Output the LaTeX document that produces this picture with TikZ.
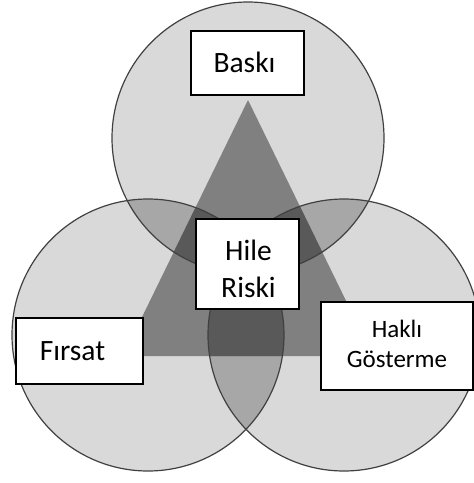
\documentclass[tikz,border=0pt]{standalone}
\usepackage{fontspec}
\setmainfont{Carlito}
\usetikzlibrary{calc}
\definecolor{gone}{gray}{0.851}
\definecolor{gtwo}{gray}{0.655}
\definecolor{gthree}{gray}{0.50}
\definecolor{gfour}{gray}{0.35}
\definecolor{edgec}{gray}{0.25}
\tikzset{
  box/.style={draw=black, line width=1.3pt, fill=white, inner sep=0pt},
  lbl/.style={inner sep=0pt, anchor=base, text=black},
  big/.style={font=\fontsize{29.5}{36}\selectfont},
  small/.style={font=\fontsize{25}{30}\selectfont},
  ring/.style={draw=edgec, line width=1.2pt}
}
\begin{document}
\begin{tikzpicture}[x=1pt,y=-1pt]
\useasboundingbox (0,0) rectangle (474,483);
\coordinate (ct) at (248,138);
\coordinate (cl) at (148,335);
\coordinate (cr) at (344,335);
\def\R{136pt}
% circles
\fill[gone] (ct) circle[radius=\R];
\fill[gone] (cl) circle[radius=\R];
\fill[gone] (cr) circle[radius=\R];
% pairwise overlaps
\begin{scope}\clip (ct) circle[radius=\R]; \fill[gtwo] (cl) circle[radius=\R]; \fill[gtwo] (cr) circle[radius=\R];\end{scope}
\begin{scope}\clip (cl) circle[radius=\R]; \fill[gtwo] (cr) circle[radius=\R];\end{scope}
% triangle
\coordinate (ta) at (248,100);
\coordinate (tb) at (123,356);
\coordinate (tc) at (373,356);
\fill[gthree] (ta) -- (tb) -- (tc) -- cycle;
\begin{scope}
  \clip (ta) -- (tb) -- (tc) -- cycle;
  \begin{scope}\clip (ct) circle[radius=\R]; \fill[gfour] (cl) circle[radius=\R]; \fill[gfour] (cr) circle[radius=\R];\end{scope}
  \begin{scope}\clip (cl) circle[radius=\R]; \fill[gfour] (cr) circle[radius=\R];\end{scope}
\end{scope}
% outlines
\draw[ring] (ct) circle[radius=\R];
\draw[ring] (cl) circle[radius=\R];
\draw[ring] (cr) circle[radius=\R];
% boxes
\node[box, minimum width=113pt, minimum height=64pt] (baski) at (247.5,63) {};
\node[box, minimum width=103pt, minimum height=90pt] (hile) at (247.5,264) {};
\node[box, minimum width=127pt, minimum height=66pt] (firsat) at (79.5,351) {};
\node[box, minimum width=152pt, minimum height=88pt] (hakli) at (397,346) {};
% labels
\node[lbl, big] (tbaski) at ($(baski.center)+(-3,9)$) {Baskı};
\node[lbl, big] (thile1) at ($(hile.center)+(1,-4)$) {Hile};
\node[lbl, big] (thile2) at ($(hile.center)+(1,33)$) {Riski};
\node[lbl, big] (tfirsat) at ($(firsat.center)+(-7,9)$) {Fırsat};
\node[lbl, small] (thakli1) at ($(hakli.center)+(0,-9)$) {Haklı};
\node[lbl, small] (thakli2) at ($(hakli.center)+(0,21)$) {Gösterme};
\end{tikzpicture}
\end{document}
